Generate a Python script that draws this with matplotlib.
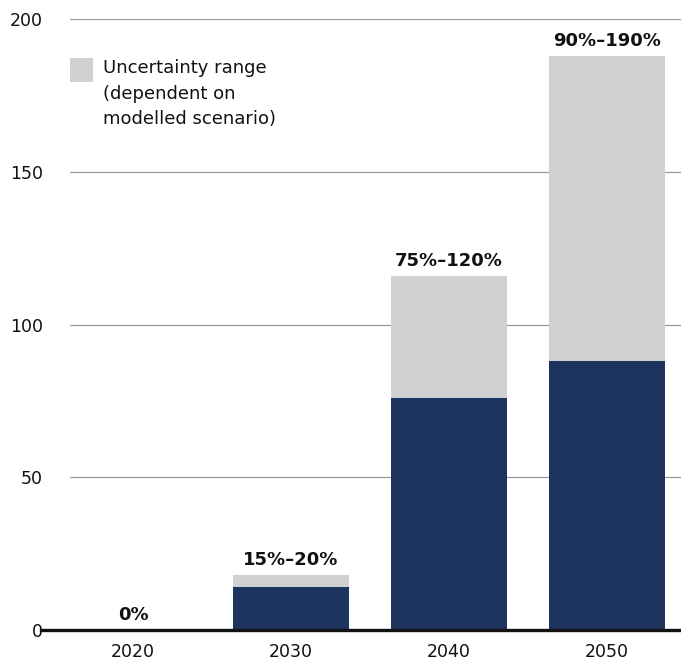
import matplotlib
matplotlib.use("Agg")
import matplotlib.pyplot as plt
from matplotlib.patches import Rectangle
from matplotlib.lines import Line2D

years = ['2020', '2030', '2040', '2050']
central = [0, 14, 76, 88]
upper = [0, 18, 116, 188]
range_labels = ['0%', '15%–20%', '75%–120%', '90%–190%']
yticks = [0, 50, 100, 150, 200]
legend_text = 'Uncertainty range\n(dependent on\nmodelled scenario)'

navy = '#1D355E'
grey = '#D0D1D3'

plt.rcParams['font.family'] = ['DejaVu Sans']

fig = plt.figure(figsize=(6.81, 6.62), dpi=100)
ax = fig.add_axes([70/681, 32/662, 611/681, 611/662])

x = list(range(len(years)))
width = 0.728
unc = [u - c for u, c in zip(upper, central)]
ax.bar(x, central, width=width, color=navy, zorder=3)
ax.bar(x, unc, bottom=central, width=width, color=grey, zorder=3)

for xi, top, lab in zip(x, upper, range_labels):
    ax.annotate(lab, (xi, top), xytext=(0, 7), textcoords='offset points',
                ha='center', va='baseline', fontsize=13, fontweight='bold',
                color='#111111', zorder=4)

ax.set_xlim(-0.3987, 3.4684)
ax.set_ylim(0, 200)
ax.set_xticks(x)
ax.set_xticklabels(years)
ax.set_yticks(yticks)
ax.set_yticklabels([str(v) for v in yticks])
ax.tick_params(axis='x', length=0, pad=9.5, labelsize=12.5, colors='#111111')
ax.tick_params(axis='y', length=0, pad=19.5, labelsize=12.5, colors='#111111')
for s in ax.spines.values():
    s.set_visible(False)

for v in yticks[1:]:
    ax.axhline(v, color='#9A9A9A', lw=0.9, zorder=1)

base = Line2D([-29/611, 1], [0, 0], transform=ax.transAxes, color='#111111',
              lw=2.4, clip_on=False, zorder=5)
ax.add_line(base)

ax.add_patch(Rectangle((0, (630-82)/611), 23/611, 24/611, transform=ax.transAxes,
                       facecolor=grey, edgecolor='none', clip_on=False))
ax.text(33/611, (630-59)/611, legend_text, transform=ax.transAxes, ha='left',
        va='top', fontsize=13, linespacing=1.55, color='#111111')

fig.savefig('out.png', dpi=100)
